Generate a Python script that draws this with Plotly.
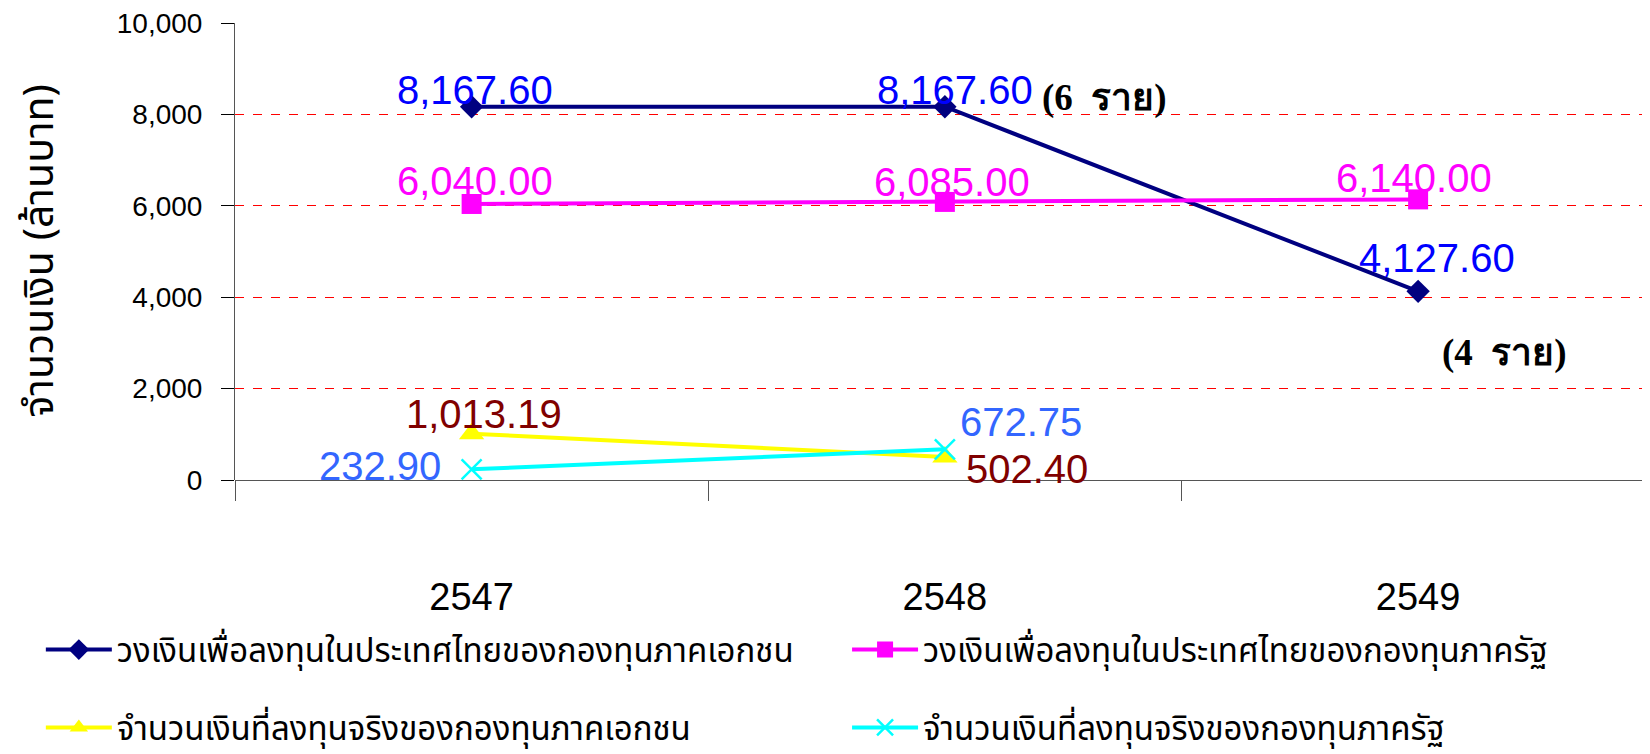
import plotly.graph_objects as go

years = ["2547", "2548", "2549"]
names = [
    "วงเงินเพื่อลงทุนในประเทศไทยของกองทุนภาคเอกชน",
    "วงเงินเพื่อลงทุนในประเทศไทยของกองทุนภาครัฐ",
    "จำนวนเงินที่ลงทุนจริงของกองทุนภาคเอกชน",
    "จำนวนเงินที่ลงทุนจริงของกองทุนภาครัฐ",
]
private_limit = [8167.60, 8167.60, 4127.60]
public_limit = [6040.00, 6085.00, 6140.00]
private_actual = [1013.19, 502.40]
public_actual = [232.90, 672.75]
y_ticks = [0, 2000, 4000, 6000, 8000, 10000]
notes = ["(6  ราย)", "(4  ราย)"]
y_title = "จำนวนเงิน (ล้านบาท)"

num_font = "Liberation Sans, Arial, sans-serif"
thai_font = "Noto Sans Thai, Noto Sans, DejaVu Sans, sans-serif"

series = [
    dict(x=years, y=private_limit, color="#000080", symbol="diamond", msize=18,
         label_color="#0000FF", shifts=[(3, -17), (10, -17), (19, -33)], legend="legend"),
    dict(x=years, y=public_limit, color="#FF00FF", symbol="square", msize=20,
         label_color="#FF00FF", shifts=[(3, -23), (7, -20), (-4, -21)], legend="legend2"),
    dict(x=years[:2], y=private_actual, color="#FFFF00", symbol="triangle-up", msize=22,
         label_color="#800000", shifts=[(12, -20), (82, 12)], legend="legend"),
    dict(x=years[:2], y=public_actual, color="#00FFFF", symbol="x-thin", msize=20,
         label_color="#3366FF", shifts=[(-92, -3), (76, -27)], legend="legend2"),
]

fig = go.Figure()
for name, s in zip(names, series):
    marker = dict(symbol=s["symbol"], size=s["msize"], color=s["color"])
    if s["symbol"] == "x-thin":
        marker["line"] = dict(color=s["color"], width=2.5)
    fig.add_trace(go.Scatter(
        x=s["x"], y=s["y"], name=name, mode="lines+markers",
        line=dict(color=s["color"], width=4), marker=marker,
        legend=s["legend"], legendgroup=name,
    ))
    for i, (yv, (dx, dy)) in enumerate(zip(s["y"], s["shifts"])):
        fig.add_annotation(
            x=i, y=yv, xref="x", yref="y", text=f"{yv:,.2f}", showarrow=False,
            xanchor="center", yanchor="middle", xshift=dx, yshift=-dy,
            font=dict(color=s["label_color"], size=40, family=num_font),
        )

note_font = dict(family="Liberation Serif, Times New Roman, serif", size=37, color="black")
fig.add_annotation(x=1, y=private_limit[1], text="<b>" + notes[0] + "</b>", xref="x", yref="y",
                   xanchor="center", yanchor="middle", xshift=160, yshift=9, showarrow=False, font=note_font)
fig.add_annotation(x=2, y=private_limit[2], text="<b>" + notes[1] + "</b>", xref="x", yref="y",
                   xanchor="center", yanchor="middle", xshift=86, yshift=-62, showarrow=False, font=note_font)

fig.add_annotation(x=-0.1385, y=0.5, xref="paper", yref="paper", text=y_title, textangle=-90,
                   showarrow=False, xanchor="center", yanchor="middle",
                   font=dict(family=thai_font, size=41, color="black"))

legend_common = dict(
    orientation="v", xref="container", yref="container", yanchor="top", xanchor="left",
    font=dict(family=thai_font, size=33, color="black"), tracegroupgap=32,
    bgcolor="rgba(0,0,0,0)", itemwidth=66,
)

fig.update_layout(
    width=1642, height=746,
    margin=dict(l=227, r=0, t=15, b=274, autoexpand=False),
    plot_bgcolor="white", paper_bgcolor="white",
    showlegend=True,
    legend=dict(x=0.020, y=0.1775, **legend_common),
    legend2=dict(x=0.511, y=0.1775, **legend_common),
    xaxis=dict(
        type="category", range=[-0.5, 2.49], tickson="boundaries",
        ticks="outside", ticklen=20, tickcolor="#555555", tickwidth=1,
        showgrid=False, showline=False, zeroline=False,
        tickfont=dict(family=num_font, size=38, color="black"),
        ticklabelstandoff=91, tickangle=0, automargin=False,
    ),
    yaxis=dict(
        range=[0, 10000], tickvals=y_ticks, tickformat=",d",
        ticks="outside", ticklen=13, tickcolor="black",
        showgrid=True, gridcolor="#FF0000", griddash="dash", gridwidth=1,
        showline=True, linecolor="#555555", linewidth=1,
        zeroline=True, zerolinecolor="#555555", zerolinewidth=1,
        tickfont=dict(family=num_font, size=28, color="black"),
        ticklabelstandoff=13, ticklabeloverflow="allow", automargin=False,
    ),
)

fig.write_html("out.html")
